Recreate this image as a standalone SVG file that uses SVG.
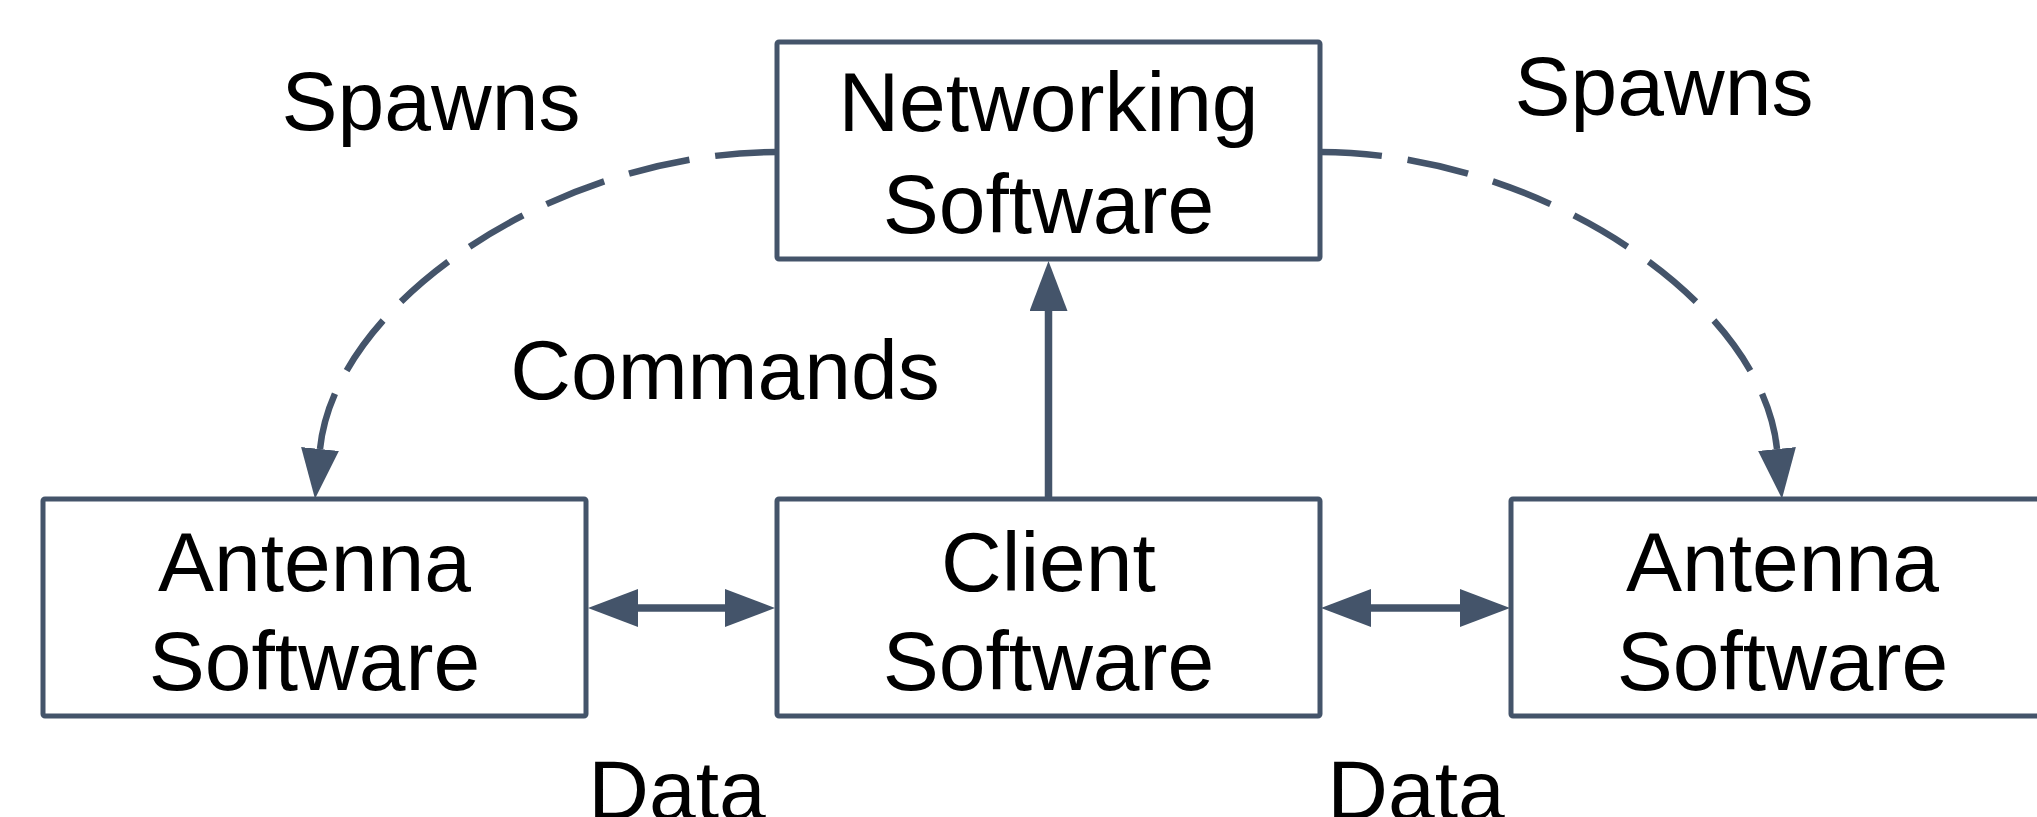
<svg xmlns="http://www.w3.org/2000/svg" width="2037" height="817" viewBox="0 0 2037 817">
<style>
.box{fill:#ffffff;stroke:#44546A;stroke-width:5}
.t{font-family:"Liberation Sans",Arial,sans-serif;font-size:84px;fill:#000000;text-anchor:middle}
.c{fill:none;stroke:#44546A;stroke-width:7.5}
.d{stroke-dasharray:62 26;stroke-width:6.5}
</style>
<defs>
<marker id="ah" markerUnits="userSpaceOnUse" markerWidth="50" markerHeight="38" refX="0" refY="19" orient="auto-start-reverse" viewBox="0 0 50 38">
<path d="M0,0 L50,19 L0,38 Z" fill="#44546A"/>
</marker>
</defs>
<rect width="2037" height="817" fill="#ffffff"/>
<g id="connectors">
<path class="c d" d="M777,152 C560,152 335,300 320,449" marker-end="url(#ah)"/>
<path class="c d" d="M1320,152 C1537,152 1762,300 1777,449" marker-end="url(#ah)"/>
<path class="c" d="M1048.5,499 L1048.5,311" marker-end="url(#ah)"/>
<path class="c" d="M638,608 L725,608" marker-start="url(#ah)" marker-end="url(#ah)"/>
<path class="c" d="M1371,608 L1460,608" marker-start="url(#ah)" marker-end="url(#ah)"/>
</g>
<g id="networking">
<rect class="box" x="777" y="42" width="543" height="217" rx="2"/>
<text class="t" x="1048.5" y="131">Networking</text>
<text class="t" x="1048.5" y="233">Software</text>
</g>
<g id="antenna-left">
<rect class="box" x="43" y="499" width="543" height="217" rx="2"/>
<text class="t" x="314.5" y="591">Antenna</text>
<text class="t" x="314.5" y="690">Software</text>
</g>
<g id="client">
<rect class="box" x="777" y="499" width="543" height="217" rx="2"/>
<text class="t" x="1048.5" y="591">Client</text>
<text class="t" x="1048.5" y="690">Software</text>
</g>
<g id="antenna-right">
<rect class="box" x="1511" y="499" width="543" height="217" rx="2"/>
<text class="t" x="1782.5" y="591">Antenna</text>
<text class="t" x="1782.5" y="690">Software</text>
</g>
<g id="labels">
<text class="t" x="431" y="130">Spawns</text>
<text class="t" x="1664" y="115">Spawns</text>
<text class="t" x="725" y="399">Commands</text>
<text class="t" x="677" y="819">Data</text>
<text class="t" x="1416" y="819">Data</text>
</g>
</svg>
